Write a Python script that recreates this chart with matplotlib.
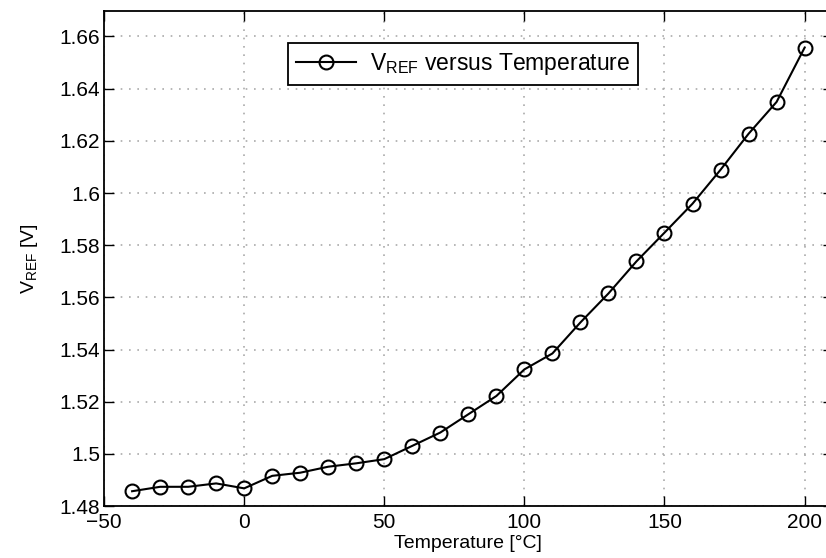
import matplotlib
matplotlib.use("Agg")
import matplotlib.pyplot as plt

temperature = [-40, -30, -20, -10, 0, 10, 20, 30, 40, 50, 60, 70, 80, 90, 100,
               110, 120, 130, 140, 150, 160, 170, 180, 190, 200]
vref = [1.4857, 1.4874, 1.4874, 1.4887, 1.4868, 1.4916, 1.4928, 1.4951, 1.4964,
        1.4980, 1.5031, 1.5082, 1.5152, 1.5222, 1.5324, 1.5385, 1.5504, 1.5615,
        1.5738, 1.5848, 1.5959, 1.6089, 1.6227, 1.6349, 1.6557]
xticks = [-50, 0, 50, 100, 150, 200]
yticks = [1.48, 1.50, 1.52, 1.54, 1.56, 1.58, 1.60, 1.62, 1.64, 1.66]
ytick_labels = ["1.48", "1.5", "1.52", "1.54", "1.56", "1.58", "1.6", "1.62", "1.64", "1.66"]

plt.rcParams['font.family'] = ['Liberation Sans', 'DejaVu Sans']
plt.rcParams['mathtext.fontset'] = 'custom'
plt.rcParams['mathtext.rm'] = 'Liberation Sans'
plt.rcParams['mathtext.it'] = 'Liberation Sans:italic'
plt.rcParams['mathtext.bf'] = 'Liberation Sans:bold'

fig = plt.figure(figsize=(8.26, 5.58), dpi=100)
ax = fig.add_axes([0.126, 0.093, 0.882, 0.887])

ax.plot(temperature, vref, color='black', linewidth=1.5, marker='o',
        markersize=10, markerfacecolor='none', markeredgewidth=1.5,
        label=r'V$_{\mathrm{REF}}$ versus Temperature')

ax.set_xlim(-50, 210)
ax.set_ylim(1.48, 1.6697)
ax.set_xticks(xticks)
ax.set_yticks(yticks)
ax.set_yticklabels(ytick_labels)
ax.tick_params(direction='in', length=7, width=1, labelsize=15, top=True, right=True)
ax.tick_params(axis='x', pad=5)
ax.tick_params(axis='y', pad=3)
ax.grid(True, linestyle=(0, (1, 4)), color='#aaaaaa', linewidth=1.2)
for s in ax.spines.values():
    s.set_linewidth(1.3)

ax.set_xlabel('Temperature [°C]', fontsize=14, labelpad=2)
ax.set_ylabel(r'V$_{\mathrm{REF}}$ [V]', fontsize=14, labelpad=14)

leg = ax.legend(loc='upper left', bbox_to_anchor=(0.237, 0.958), fontsize=16.5,
                frameon=True, fancybox=False, edgecolor='black', framealpha=1,
                handlelength=2.6, borderpad=0.35, handletextpad=0.6)
leg.get_frame().set_linewidth(1.3)

fig.savefig('out.png', dpi=100)
